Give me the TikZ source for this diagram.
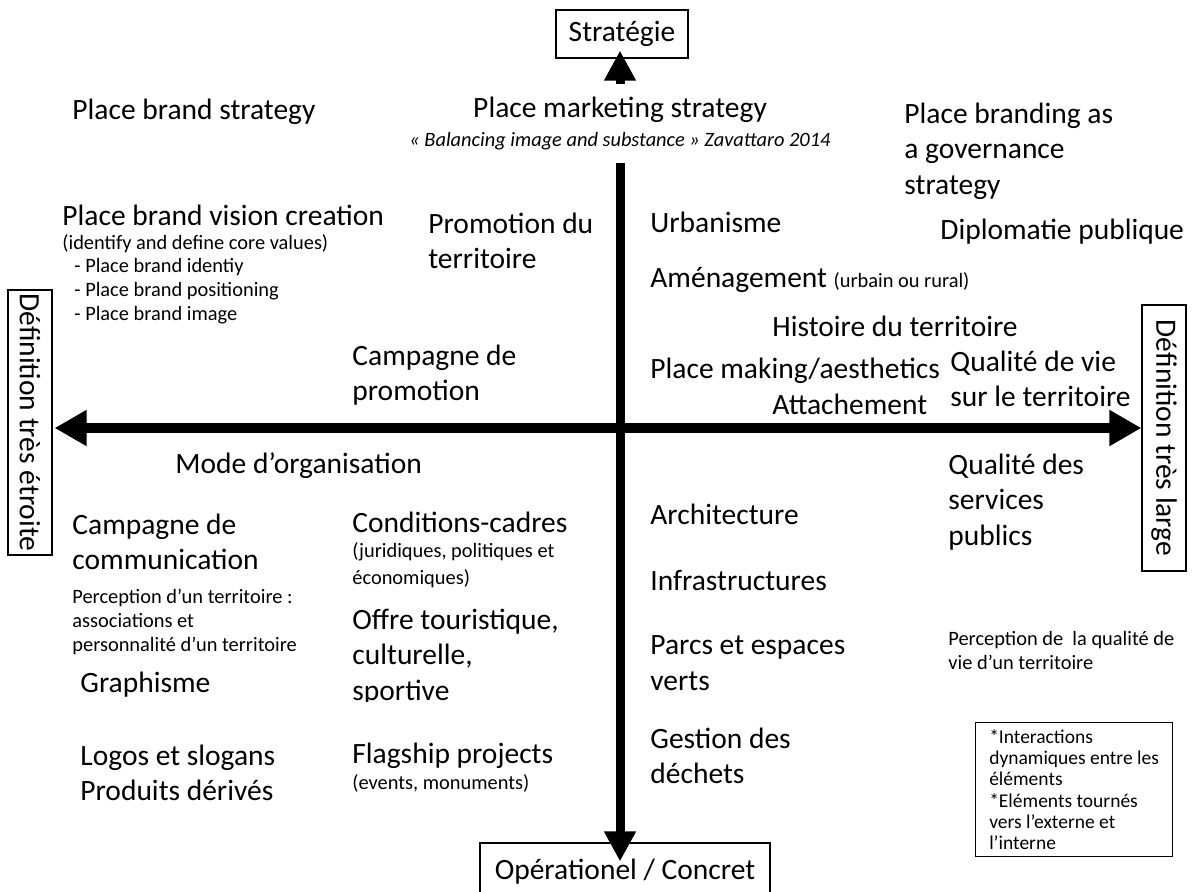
\documentclass[tikz,border=0pt]{standalone}
\usepackage{fontspec}
\setmainfont{Carlito}
\usetikzlibrary{arrows.meta}

\newcommand\smalltext{\fontsize{10.2}{12}\selectfont}

\begin{document}
\begin{tikzpicture}[x=0.5pt,y=-0.5pt,
  txt/.style={anchor=west, align=left, inner sep=0pt, font=\fontsize{14.75}{17.8}\selectfont},
  sml/.style={txt, font=\smalltext},
  box/.style={draw, line width=0.6pt, inner sep=0pt, font=\fontsize{14.75}{17.8}\selectfont},
  axis/.style={line width=5pt, {Triangle[length=16pt,width=17pt]}-{Triangle[length=16pt,width=17pt]}},
  vaxis/.style={line width=4.5pt, -{Triangle[length=15pt,width=15pt]}}]
\clip (0,0) rectangle (1192,891);

% the four ends of the axes
\node[box, minimum width=66pt, minimum height=24pt] (strat) at (622,34) {Stratégie};
\node[box, minimum width=145pt, minimum height=29pt] (op) at (625,872) {Opérationel / Concret};
\node[box, rotate=-90, minimum width=132.5pt, minimum height=22pt] (etroite) at (30,422.5) {Définition très étroite};
\node[box, rotate=-90, minimum width=133pt, minimum height=22pt] (large) at (1164,438) {Définition très large};

\node[box, draw=none, align=center, minimum height=38.5pt] (marketing) at (620,123.5)
  {Place marketing strategy\\[-3pt]{\fontsize{10.2}{12}\selectfont\itshape « Balancing image and substance » Zavattaro 2014}};

\coordinate (origin) at (620,428);
\draw[axis, shorten <=1pt] (origin -| etroite.north) -- (origin -| large.south);
\draw[vaxis, shorten >=-4pt] (origin |- marketing.north) -- (origin |- strat.south);
\draw[vaxis, shorten >=-9.5pt] (origin |- marketing.south) -- (origin |- op.north);

% upper half
\node[txt] (brandstrat) at (72,112) {Place brand strategy};
\node[txt] (governance) at (904,151) {Place branding as\\a governance\\strategy};
\node[txt] (vision) at (62,215) {Place brand vision creation};
\node[sml] (corevalues) at (62,244) {(identify and define core values)};
\node[sml] (identity) at (74,291) {- Place brand identiy\\- Place brand positioning\\- Place brand image};
\node[txt] (promotion) at (428,241) {Promotion du\\territoire};
\node[txt] (urbanisme) at (650,222) {Urbanisme};
\node[txt] (diplomatie) at (940,232) {Diplomatie publique};
\node[txt] (amenagement) at (650,280) {Aménagement {\smalltext (urbain ou rural)}};
\node[txt] (histoire) at (772,326) {Histoire du territoire};
\node[txt] (placemaking) at (650,371) {Place making/aesthetics};
\node[txt] (qualitevie) at (950,379) {Qualité de vie\\sur le territoire};
\node[txt] (campagneprom) at (352,375) {Campagne de\\promotion};
\node[txt] (attachement) at (772,404) {Attachement};

% lower half
\node[txt] (organisation) at (175,466) {Mode d’organisation};
\node[txt] (qualiteserv) at (948,502) {Qualité des\\services\\publics};
\node[txt] (campagnecom) at (72,542) {Campagne de\\communication};
\node[txt] (conditions) at (352,522) {Conditions-cadres};
\node[sml, font=\fontsize{10.2}{13.5}\selectfont] (juridiques) at (352,565) {(juridiques, politiques et\\économiques)};
\node[txt] (architecture) at (650,514) {Architecture};
\node[sml] (perception) at (72,622) {Perception d’un territoire :\\associations et\\personnalité d’un territoire};
\node[txt] (infra) at (650,580) {Infrastructures};
\begin{scope}
  \clip (340,600) rectangle (620,701);
  \node[txt] (offre) at (352,657) {Offre touristique,\\culturelle,\\sportive};
\end{scope}
\node[sml] (perceptionqual) at (948,650) {Perception de\ \ la qualité de\\vie d’un territoire};
\node[txt] (parcs) at (650,663) {Parcs et espaces\\verts};
\node[txt] (graphisme) at (80,685) {Graphisme};
\node[txt] (logos) at (80,773) {Logos et slogans\\Produits dérivés};
\node[txt] (flagship) at (352,756) {Flagship projects};
\node[sml] (events) at (352,783) {(events, monuments)};
\node[txt] (gestion) at (650,756) {Gestion des\\déchets};

\node[draw, line width=0.6pt, anchor=north west, align=left, inner xsep=6pt, inner ysep=3.5pt, minimum width=98.5pt,
  font=\fontsize{9.75}{10.6}\selectfont] (note) at (975,722)
  {*Interactions\\dynamiques entre les\\éléments\\*Eléments tournés\\vers l’externe et\\l’interne};
\end{tikzpicture}
\end{document}
